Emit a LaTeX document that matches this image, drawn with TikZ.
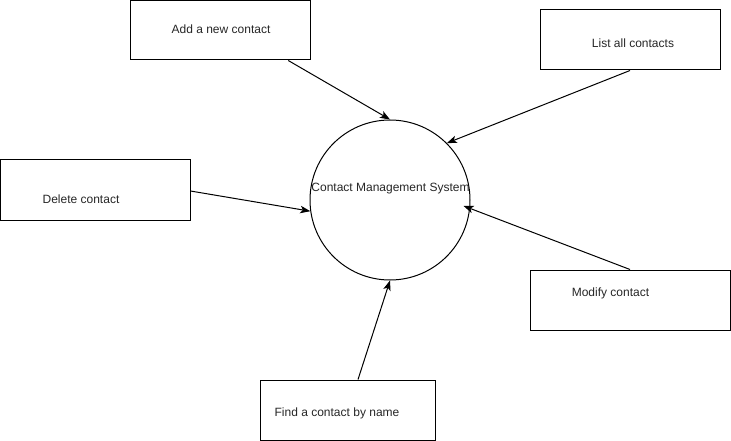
\documentclass[tikz,border=0pt]{standalone}
\usepackage{fontspec}
\setmainfont{Liberation Sans}
\usetikzlibrary{arrows.meta,calc}
\begin{document}
\begin{tikzpicture}[x=1pt,y=-1pt,
  boxnode/.style={draw=black,line width=1pt,minimum height=60pt,inner sep=0pt,anchor=center},
  lbl/.style={font=\fontsize{12pt}{14pt}\selectfont,inner sep=0pt,text=black!85},
  flow/.style={draw=black,line width=1pt,-{Stealth[length=10pt,width=7.5pt,inset=2.5pt]}}]
\useasboundingbox (0,0) rectangle (731,441);
% boxes
\node[boxnode,minimum width=179.5pt,minimum height=59.5pt] (b1) at (220.25,30.25) {};
\node[boxnode,minimum width=180pt] (b2) at (630,40) {};
\node[boxnode,minimum width=189.5pt] (b3) at (95.25,190) {};
\node[boxnode,minimum width=200pt] (b4) at (630,300) {};
\node[boxnode,minimum width=175pt] (b5) at (347.5,410) {};
% labels
\node[lbl] (t1) at (221,29) {Add a new contact};
\node[lbl] (t2) at (633,43) {List all contacts};
\node[lbl] (t3) at (81,199) {Delete contact};
\node[lbl] (t4) at (610.5,293) {Modify contact};
\node[lbl] (t5) at (337,413) {Find a contact by name};
% circle
\node[draw=black,line width=1pt,circle,minimum size=160pt,inner sep=0pt] (c) at (390,200) {};
\node[lbl] (ct) at (390.5,189) {Contact Management System};
% connectors
\draw[flow] ([xshift=68pt]b1.south) -- (c.90);
\draw[flow] (b2.south) -- (c.45);
\draw[flow] ([yshift=-1pt]b3.east) -- (c.188);
\draw[flow,shorten >=-7pt] (b4.north) -- (c.-6);
\draw[flow] ([xshift=10.5pt]b5.north) -- (c.270);
\end{tikzpicture}
\end{document}
